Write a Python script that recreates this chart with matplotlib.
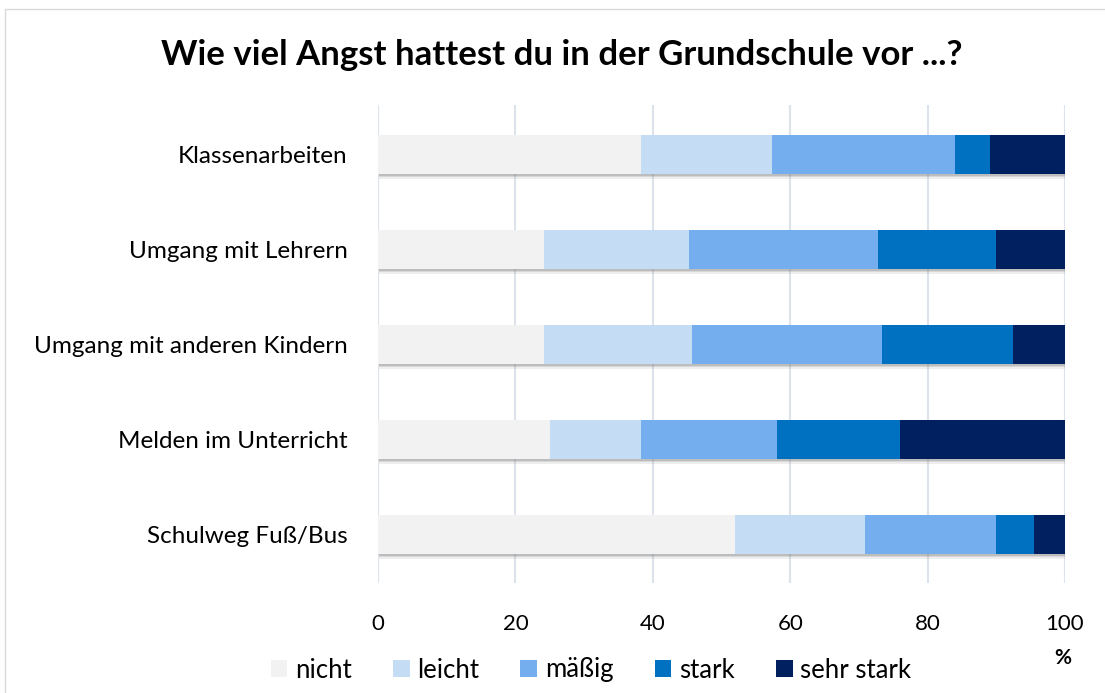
import matplotlib
matplotlib.use("Agg")
import matplotlib.pyplot as plt
import matplotlib.patheffects as pe
from matplotlib.patches import Rectangle
import numpy as np

plt.rcParams['font.family'] = ['Lato', 'DejaVu Sans']

categories = ["Klassenarbeiten", "Umgang mit Lehrern", "Umgang mit anderen Kindern",
              "Melden im Unterricht", "Schulweg Fuß/Bus"]
series_names = ["nicht", "leicht", "mäßig", "stark", "sehr stark"]
nicht = [38.3, 24.2, 24.2, 25.0, 52.0]
leicht = [19.1, 21.1, 21.5, 13.3, 18.9]
maessig = [26.6, 27.5, 27.7, 19.8, 19.1]
stark = [5.1, 17.2, 19.0, 17.9, 5.5]
sehr_stark = [10.9, 10.0, 7.6, 24.0, 4.5]
colors = ["#f2f2f2", "#c5dcf5", "#75aeef", "#0070c0", "#002060"]
xticks = [0, 20, 40, 60, 80, 100]

fig = plt.figure(figsize=(11.05, 6.93), dpi=100)
fig.patches.append(Rectangle((5/1105, -0.1), 1.2, 1 - 9/693 + 0.1, transform=fig.transFigure,
                             fill=False, edgecolor="#d9d9d9", linewidth=1.0))
ax = fig.add_axes([378/1105, 1 - 583/693, (1065-378)/1105, (583-105)/693])

data = [nicht, leicht, maessig, stark, sehr_stark]
y = np.arange(len(categories))
left = np.zeros(len(categories))
total = np.sum(data, axis=0)
sb = ax.barh(y, total, height=0.41, color="white", zorder=2)
for b in sb:
    b.set_path_effects([
        pe.SimplePatchShadow(offset=(1, -3.5), shadow_rgbFace="#909090", alpha=0.15),
        pe.SimplePatchShadow(offset=(1, -2.5), shadow_rgbFace="#808080", alpha=0.2),
        pe.SimplePatchShadow(offset=(0.5, -1.5), shadow_rgbFace="#707070", alpha=0.25),
    ])
for vals, name, c in zip(data, series_names, colors):
    ax.barh(y, vals, left=left, height=0.41, color=c, label=name, zorder=3)
    left += np.array(vals)

ax.set_xlim(0, 100)
ax.set_ylim(4.51, -0.52)
ax.set_xticks(xticks)
ax.set_xticklabels([str(t) for t in xticks])
ax.set_yticks(y)
ax.set_yticklabels(categories)
ax.tick_params(axis='both', length=0, colors="#000000")
ax.tick_params(axis='x', pad=22, labelsize=16)
ax.tick_params(axis='y', pad=22, labelsize=17.5)
ax.xaxis.grid(True, color="#dde3ea", linewidth=1.5, zorder=0)
ax.set_axisbelow(True)
for s in ax.spines.values():
    s.set_visible(False)

fig.text(562/1105, 1 - 55/693, "Wie viel Angst hattest du in der Grundschule vor ...?",
         ha="center", va="center", fontsize=25, fontweight="bold")
fig.text(1063/1105, 1 - 658/693, "%", ha="center", va="center", fontsize=15, fontweight="bold")

leg = fig.legend(*ax.get_legend_handles_labels(), loc="center", bbox_to_anchor=(591/1105, 1 - 670/693),
                 ncol=5, frameon=False, fontsize=18.5, handlelength=0.65, handleheight=0.65,
                 handletextpad=0.3, columnspacing=1.6)

fig.savefig("out.png", dpi=100)
